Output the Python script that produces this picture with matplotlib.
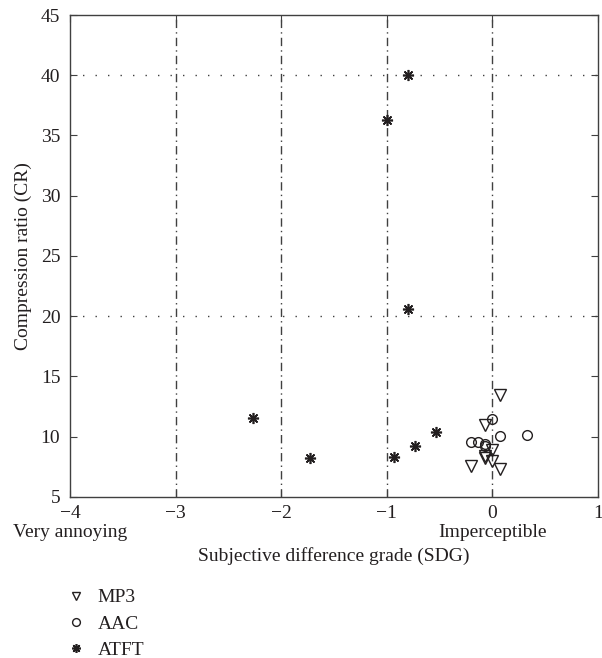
import matplotlib
matplotlib.use('Agg')
import matplotlib.pyplot as plt

plt.rcParams['font.family'] = ['Liberation Serif', 'DejaVu Serif']
plt.rcParams['axes.unicode_minus'] = True

# data
mp3_sdg = [0.07, -0.07, 0.0, -0.07, -0.07, 0.0, -0.2, 0.07]
mp3_cr = [13.5, 10.95, 8.9, 8.4, 8.2, 7.95, 7.55, 7.3]

aac_sdg = [0.0, 0.07, 0.33, -0.2, -0.14, -0.07, -0.07]
aac_cr = [11.45, 10.1, 10.15, 9.55, 9.55, 9.4, 9.25]

atft_sdg = [-2.27, -1.73, -1.0, -0.8, -0.8, -0.93, -0.73, -0.53]
atft_cr = [11.55, 8.25, 36.3, 40.0, 20.6, 8.3, 9.22, 10.42]

x_ticks = [-4, -3, -2, -1, 0, 1]
y_ticks = [5, 10, 15, 20, 25, 30, 35, 40, 45]
grade_pos = [-4, 0]
grade_names = ['Very annoying', 'Imperceptible']
v_grid = [-3, -2, -1, 0]
h_grid = [20, 40]

ink = '#231f20'
line_col = '#404040'

fig = plt.figure(figsize=(6.02, 6.58), dpi=100)
ax = fig.add_axes([0.1163, 0.2447, 0.8771, 0.7325])

for xv in v_grid:
    ax.axvline(xv, color=line_col, lw=1.0, ls=(0, (6, 3, 1, 3)), zorder=1)
for yv in h_grid:
    ax.axhline(yv, color=line_col, lw=1.0, ls=(0, (1, 8)), zorder=1)

ax.plot(mp3_sdg, mp3_cr, ls='none', marker='v', ms=8, mfc='none',
        mec=ink, mew=1.0, label='MP3', zorder=3)
ax.plot(aac_sdg, aac_cr, ls='none', marker='o', ms=7, mfc='none',
        mec=ink, mew=1.0, label='AAC', zorder=3)
ax.plot(atft_sdg, atft_cr, ls='none', marker=(8, 2, 0), ms=8, mfc=ink,
        mec=ink, mew=1.2, label='ATFT', zorder=3)

ax.set_xlim(-4, 1)
ax.set_ylim(5, 45)
ax.set_xticks(x_ticks)
ax.set_yticks(y_ticks)
ax.tick_params(direction='in', length=5, width=0.8, color=line_col,
               top=True, right=True, labelsize=14, labelcolor=ink)
ax.tick_params(axis='y', pad=7)
ax.tick_params(axis='x', pad=6)
for s in ax.spines.values():
    s.set_color(line_col)
    s.set_linewidth(1.0)

# second row of labels under the end ticks
for xv, name in zip(grade_pos, grade_names):
    ax.text(xv, -0.073, name, transform=ax.get_xaxis_transform(),
            ha='center', va='center', fontsize=14, color=ink)

ax.set_xlabel('Subjective difference grade (SDG)', fontsize=14, color=ink,
              labelpad=18)
ax.set_ylabel('Compression ratio (CR)', fontsize=14, color=ink, labelpad=6)

leg = fig.legend(loc='upper left', bbox_to_anchor=(0.098, 0.117),
                 frameon=False, fontsize=14, labelcolor=ink,
                 handlelength=1.0, handletextpad=0.6, labelspacing=0.45,
                 borderaxespad=0, markerscale=0.8)

fig.savefig('out.png', dpi=100)
